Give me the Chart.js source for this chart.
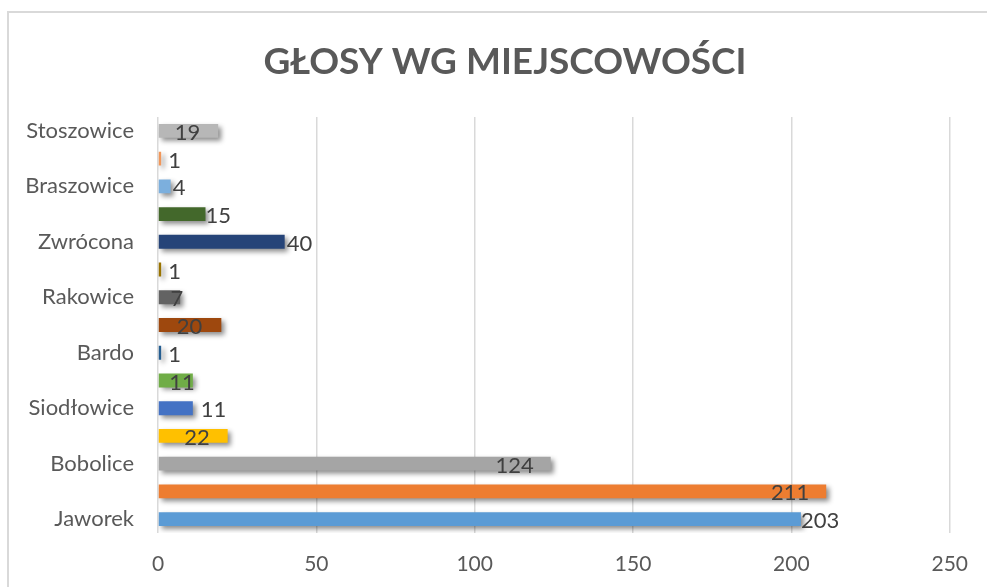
<!DOCTYPE html>
<html><head><meta charset="utf-8">
<script src="https://cdn.jsdelivr.net/npm/chart.js@4"></script>
<style>
html,body{margin:0;padding:0;background:#fff;}
#wrap{position:relative;width:987px;height:587px;}
#frame{position:absolute;left:7px;top:11px;right:-5px;bottom:-5px;border-left:2px solid #d9d9d9;border-top:2px solid #d9d9d9;}
canvas{position:absolute;left:0;top:0;}
</style></head>
<body>
<div id="wrap"><div id="frame"></div><canvas id="c" width="987" height="587"></canvas></div>
<script>
// Categories listed bottom to top (Jaworek at the bottom); unlabeled rows have no visible name
const categories = ["Jaworek","","Bobolice","","Siodłowice","","Bardo","","Rakowice","","Zwrócona","","Braszowice","","Stoszowice"];
const votes = [203,211,124,22,11,11,1,20,7,1,40,15,4,1,19];
const xTicks = [0,50,100,150,200,250];
const titleText = "GŁOSY WG MIEJSCOWOŚCI";

// styling (not data)
const barColors = ["#5B9BD5","#ED7D31","#A5A5A5","#FFC000","#4472C4","#70AD47","#255E91","#9E480E","#636363","#997300","#264478","#43682B","#7CAFDD","#F1975A","#B7B7B7"];
const labelAlign = ["left","right","right","right","left","right","left","right","right","left","left","left","left","left","right"];
const labelDx =    [0,   -17,   -17,   -18,   8,    2,     7,    -19,   3,     7,    2,    0,    2,    7,    -18];

const FONT = "Lato, 'Open Sans', sans-serif";

const titlePlugin = {
  id:'ctitle',
  afterDraw(chart){
    const c=chart.ctx; c.save();
    c.font="bold 37px "+FONT; c.fillStyle="#595959"; c.textAlign="center"; c.textBaseline="middle";
    c.fillText(titleText, 505, 62);
    c.restore();
  }
};
const shadowPlugin = {
  id:'shadow',
  beforeDatasetsDraw(chart){ const c=chart.ctx; c.save(); c.shadowColor='rgba(0,0,0,0.45)'; c.shadowBlur=5; c.shadowOffsetX=3; c.shadowOffsetY=3; },
  afterDatasetsDraw(chart){ chart.ctx.restore(); }
};
const labelPlugin = {
  id:'vlabels',
  afterDatasetsDraw(chart){
    const c=chart.ctx; const meta=chart.getDatasetMeta(0);
    c.save(); c.font="22px "+FONT; c.fillStyle="#404040"; c.textBaseline="middle";
    meta.data.forEach((bar,i)=>{
      c.textAlign=labelAlign[i];
      c.fillText(String(votes[i]), bar.x+labelDx[i], bar.y+2);
    });
    c.restore();
  }
};

new Chart(document.getElementById('c'),{
  type:'bar',
  data:{labels:categories,datasets:[{data:votes,backgroundColor:barColors,barPercentage:0.5,categoryPercentage:1.0}]},
  options:{
    indexAxis:'y',responsive:false,animation:false,
    layout:{padding:{left:0,right:32,top:117,bottom:0}},
    plugins:{legend:{display:false},tooltip:{enabled:false},title:{display:false}},
    scales:{
      x:{min:0,max:250,afterBuildTicks(s){s.ticks=xTicks.map(v=>({value:v}));},
        grid:{color:'#d9d9d9',lineWidth:1.5,drawTicks:false},border:{display:false},
        ticks:{color:'#595959',font:{family:FONT,size:21},padding:19},
        afterFit(s){s.height=54;}},
      y:{reverse:true,grid:{display:false,drawTicks:false},border:{display:false},
        ticks:{autoSkip:false,color:'#595959',font:{family:FONT,size:22},padding:24},
        afterFit(s){s.width=158;}}
    }
  },
  plugins:[shadowPlugin,labelPlugin,titlePlugin]
});
</script>
</body></html>
